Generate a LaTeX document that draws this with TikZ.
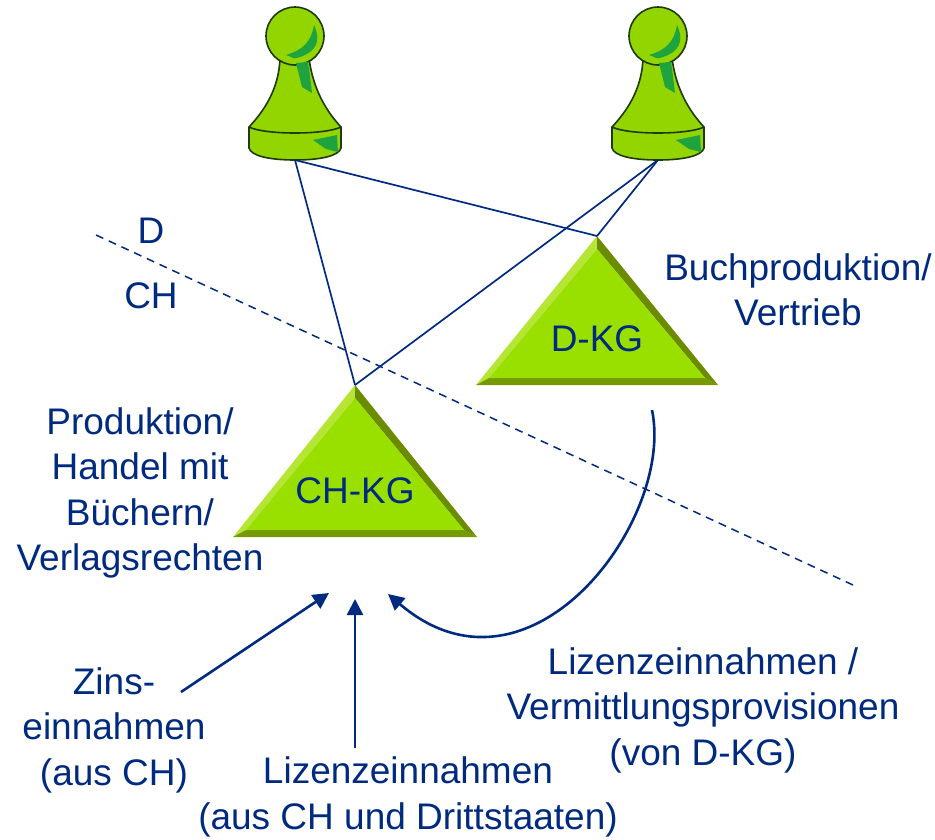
\documentclass[tikz,border=0pt]{standalone}
\usepackage{fontspec}
\setmainfont{Liberation Sans}
\usetikzlibrary{arrows.meta}
\definecolor{navy}{HTML}{002A80}
\definecolor{pawngreen}{HTML}{93D500}
\definecolor{pawnshade}{HTML}{1FA33F}
\definecolor{pawnedge}{HTML}{1E3A0A}
\definecolor{trimain}{HTML}{99E000}
\definecolor{trilight}{HTML}{B5E635}
\definecolor{tridark}{HTML}{6C8C00}
\definecolor{tribottom}{HTML}{769A05}
\tikzset{
  lbl/.style={text=navy,align=center,inner sep=0pt,font=\fontsize{37}{45.5}\selectfont},
  tie/.style={draw=navy,line width=1.7pt},
  border/.style={draw=navy,line width=1.5pt,dash pattern=on 8pt off 6pt},
  flow/.style={draw=navy,line width=2.6pt,-{Triangle[length=16pt,width=16pt]}},
  pawn/.pic={
    \path[fill=pawngreen,draw=pawnedge,line width=1.6pt]
      (-15,58) .. controls (-16,90) and (-32,112) .. (-46,127)
      -- (-46,148) .. controls (-44,156) and (-25,160) .. (0,160)
      .. controls (25,160) and (44,156) .. (46,148) -- (46,127)
      .. controls (32,112) and (18,90) .. (14,58) -- cycle;
    \path[draw=pawnedge,line width=1.6pt] (-46,127) .. controls (-30,135) and (30,135) .. (46,127);
    \path[fill=pawngreen,draw=pawnedge,line width=1.6pt] (0,36) circle[radius=29];
    \path[fill=pawnshade] (19,25) .. controls (27,42) and (20,52) .. (5,57) .. controls (-3,60) and (-2,57) .. (-9,55)
      .. controls (8,50) and (16,42) .. (19,25) -- cycle;
    \path[fill=pawnshade] (1,63) -- (13,62) .. controls (15,75) and (16,85) .. (17,93) -- (7,87) -- cycle;
    \path[fill=pawnshade] (18,140) -- (42,135) -- (43,152) -- (31,149) -- cycle;
  }
}
\newcommand{\bevel}[6]{% apex x,y; left x; right x; base y; inset
  \path[fill=trilight] (#1,#2) -- (#3,#5) -- (#3+13,#5-7) -- (#1,#2+13) -- cycle;
  \path[fill=tridark] (#1,#2) -- (#4,#5) -- (#4-13,#5-7) -- (#1,#2+13) -- cycle;
  \path[fill=tribottom] (#3,#5) -- (#4,#5) -- (#4-13,#5-7) -- (#3+13,#5-7) -- cycle;
  \path[fill=trimain] (#1,#2+13) -- (#4-13,#5-7) -- (#3+13,#5-7) -- cycle;
}
\begin{document}
\begin{tikzpicture}[x=1pt,y=-1pt]
\useasboundingbox (0,0) rectangle (935,839);
% pawns
\pic at (295,0) {pawn};
\pic at (658,0) {pawn};
\coordinate (footA) at (295,160);
\coordinate (footB) at (658,160);
% triangles
\bevel{355}{385}{233}{477}{537}{7}
\bevel{597}{236}{476}{718}{385}{7}
\coordinate (apexCH) at (355,385);
\coordinate (apexD) at (597,236);
\node[lbl] (chkg) at (355,491) {CH-KG};
\node[lbl] (dkg) at (597,339) {D-KG};
% ties
\draw[tie] (footA) -- (apexCH);
\draw[tie] (footA) -- (apexD);
\draw[tie] (footB) -- (apexD);
\draw[tie] (footB) -- (apexCH);
% border
\coordinate (bA) at (96,235);
\coordinate (bB) at (853,585);
\draw[border] (bA) -- (bB);
\node[lbl] (d) at (151,231) {D};
\node[lbl] (ch) at (151,296) {CH};
% labels
\node[lbl] (buch) at (798,290) {Buchproduktion/\\Vertrieb};
\node[lbl] (prod) at (140,493) {Produktion/\\Handel mit\\Büchern/\\Verlagsrechten};
\node[lbl] (zins) at (114,730) {Zins-\\einnahmen\\(aus CH)};
\node[lbl] (liz) at (408,797) {Lizenzeinnahmen\\(aus CH und Drittstaaten)};
\node[lbl] (verm) at (703,710) {Lizenzeinnahmen /\\Vermittlungsprovisionen\\(von D-KG)};
% arrows
\coordinate (zS) at (181,692); \coordinate (zE) at (329,593);
\coordinate (lS) at (355,748); \coordinate (lE) at (355,599);
\coordinate (aS) at (652,410); \coordinate (aE) at (388,594);
\draw[flow] (zS) -- (zE);
\draw[flow] (lS) -- (lE);
\draw[flow] (aS) .. controls (675,520) and (530,715) .. (aE);
\end{tikzpicture}
\end{document}
